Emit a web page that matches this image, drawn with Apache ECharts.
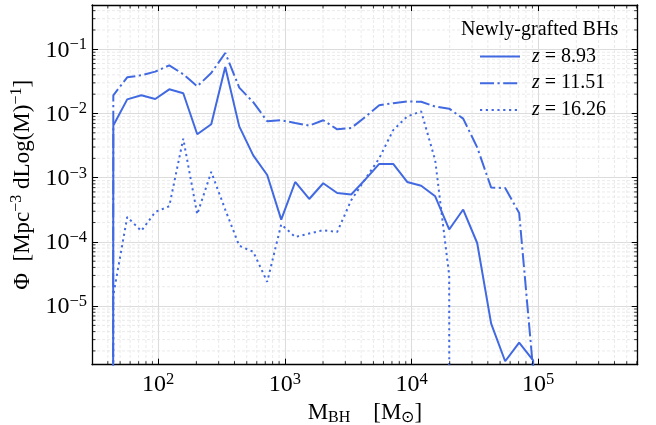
<!DOCTYPE html>
<html><head><meta charset="utf-8">
<script src="https://cdn.jsdelivr.net/npm/echarts@6/dist/echarts.min.js"></script>
<style>html,body{margin:0;padding:0;background:#fff}#c{width:656px;height:425px}</style>
</head><body><div id="c"></div>
<script>
// ---- data (black-hole mass bins, M_sun) ----
const MASS = [34.24, 44.2, 56.9, 73.5, 94.7, 122.2, 157.6, 203.2, 262.1, 338.1, 436.1, 562.3, 725.1, 935.4, 1206, 1556, 2007, 2588, 3338, 4305, 5553, 7161, 9237, 11912, 15367, 19815, 25558, 32961, 42510, 54828, 70713, 91201, 117650];
const PHI_Z893 = [0, 6.5e-3, 1.66e-2, 1.92e-2, 1.68e-2, 2.38e-2, 2.07e-2, 4.74e-3, 6.8e-3, 5.3e-2, 6.3e-3, 2.23e-3, 1.1e-3, 2.22e-4, 8.57e-4, 4.66e-4, 8.18e-4, 5.78e-4, 5.46e-4, 9.33e-4, 1.64e-3, 1.64e-3, 8.57e-4, 7.5e-4, 5.13e-4, 1.56e-4, 3.19e-4, 9.6e-5, 5.33e-6, 1.38e-6, 2.7e-6, 1.43e-6, 0];
const PHI_Z1151 = [0, 1.92e-2, 3.66e-2, 3.94e-2, 4.49e-2, 5.63e-2, 4.09e-2, 2.65e-2, 4.27e-2, 8.77e-2, 2.53e-2, 1.5e-2, 7.57e-3, 7.84e-3, 7.11e-3, 6.47e-3, 7.84e-3, 5.67e-3, 5.94e-3, 8.83e-3, 1.34e-2, 1.45e-2, 1.54e-2, 1.52e-2, 1.28e-2, 1.19e-2, 8.3e-3, 2.97e-3, 7.0e-4, 6.9e-4, 2.82e-4, 1.0e-6, 0];
const PHI_Z1626 = [0, 1.48e-5, 2.44e-4, 1.48e-4, 2.92e-4, 3.59e-4, 4.06e-3, 2.69e-4, 1.23e-3, 3.18e-4, 8.7e-5, 7.0e-5, 2.38e-5, 1.88e-4, 1.19e-4, 1.35e-4, 1.52e-4, 1.43e-4, 4.45e-4, 9.5e-4, 2.0e-3, 5.5e-3, 9.0e-3, 1.08e-2, 1.87e-3, 3.0e-5, 0, 0, 0, 0, 0, 0, 0];
const SERIES_NAMES = ['z = 8.93', 'z = 11.51', 'z = 16.26'];
const LEGEND_TITLE = 'Newly-grafted BHs';
const X_MIN = 30, X_MAX = 6.1e5, Y_MIN = 1.22e-6, Y_MAX = 0.49;
const MINOR_MULTS = [2, 3, 4, 5, 6, 7, 8, 9];
const X_DECADES = [1, 2, 3, 4, 5];
const Y_DECADES = [-6, -5, -4, -3, -2, -1];

// ---- helpers ----
const FONT = 'Liberation Serif';
const COLOR = '#4169E1';
const TINY = 1e-300; // zero bins clipped like matplotlib's log scale
function pairs(ys) { return MASS.map((m, i) => [m, ys[i] > 0 ? ys[i] : TINY]); }
const X_MINOR = [], Y_MINOR = [];
X_DECADES.forEach(d => MINOR_MULTS.forEach(m => { const v = m * Math.pow(10, d); if (v > X_MIN && v < X_MAX) X_MINOR.push(v); }));
Y_DECADES.forEach(d => MINOR_MULTS.forEach(m => { const v = m * Math.pow(10, d); if (v > Y_MIN && v < Y_MAX) Y_MINOR.push(v); }));
const MINOR_DATA = X_MINOR.map(v => [v, Y_MIN, 0]).concat(Y_MINOR.map(v => [X_MIN, v, 1]));

function supLabel(v) {
  const e = Math.round(Math.log10(v));
  return '{b|10}{s|' + (e < 0 ? '\u2212' + (-e) : String(e)) + '}';
}
const tickRich = {
  b: { fontFamily: FONT, fontSize: 24, color: '#000', verticalAlign: 'bottom' },
  s: { fontFamily: FONT, fontSize: 16.5, color: '#000', verticalAlign: 'bottom', padding: [0, 0, 9, 0] }
};
const axisLine = { show: true, onZero: false, lineStyle: { color: '#000', width: 1.3 } };
const majorTick = { show: true, inside: true, length: 6, lineStyle: { color: '#000', width: 1 } };

function minorRender(kind) {
  return function (params, api) {
    const cs = params.coordSys;
    const isX = api.value(2) === 0;
    if (isX) {
      const px = api.coord([api.value(0), Y_MIN])[0];
      if (kind === 'grid') return { type: 'line', shape: { x1: px, y1: cs.y, x2: px, y2: cs.y + cs.height }, style: { stroke: '#e4e4e4', lineWidth: 0.8, lineDash: [3, 2] } };
      return { type: 'group', children: [
        { type: 'line', shape: { x1: px, y1: cs.y + cs.height, x2: px, y2: cs.y + cs.height - 3.5 }, style: { stroke: '#000', lineWidth: 0.8 } },
        { type: 'line', shape: { x1: px, y1: cs.y, x2: px, y2: cs.y + 3.5 }, style: { stroke: '#000', lineWidth: 0.8 } }
      ] };
    } else {
      const py = api.coord([X_MIN, api.value(1)])[1];
      if (kind === 'grid') return { type: 'line', shape: { x1: cs.x, y1: py, x2: cs.x + cs.width, y2: py }, style: { stroke: '#e4e4e4', lineWidth: 0.8, lineDash: [3, 2] } };
      return { type: 'group', children: [
        { type: 'line', shape: { x1: cs.x, y1: py, x2: cs.x + 3.5, y2: py }, style: { stroke: '#000', lineWidth: 0.8 } },
        { type: 'line', shape: { x1: cs.x + cs.width, y1: py, x2: cs.x + cs.width - 3.5, y2: py }, style: { stroke: '#000', lineWidth: 0.8 } }
      ] };
    }
  };
}

const baseX = { type: 'log', logBase: 10, min: X_MIN, max: X_MAX, splitNumber: 5 };
const baseY = { type: 'log', logBase: 10, min: Y_MIN, max: Y_MAX, splitNumber: 5 };

const chart = echarts.init(document.getElementById('c'), null, { renderer: 'canvas' });
chart.setOption({
  animation: false,
  backgroundColor: '#fff',
  grid: { left: 92, right: 18.3, top: 5, bottom: 60.3, containLabel: false, outerBoundsMode: 'none' },
  title: { text: LEGEND_TITLE, left: 461, top: 20, padding: 0, textStyle: { fontFamily: FONT, fontSize: 20, fontWeight: 'normal', color: '#000' } },
  legend: {
    orient: 'vertical', left: 479, top: 46.5, padding: 0, itemWidth: 40, itemHeight: 14, itemGap: 6.7,
    itemStyle: { opacity: 0 },
    lineStyle: { opacity: 1 },
    selectedMode: false, data: SERIES_NAMES,
    formatter: n => n.replace(/^z/, '{i|z}'),
    textStyle: { fontFamily: FONT, fontSize: 20, color: '#000',
      rich: { i: { fontFamily: FONT, fontSize: 20, fontStyle: 'italic', color: '#000', padding: [0, 0, 0, 7] } } }
  },
  xAxis: [
    Object.assign({}, baseX, {
      position: 'bottom', axisLine: axisLine, axisTick: majorTick,
      axisLabel: { formatter: supLabel, rich: tickRich, margin: 6, showMinLabel: false, showMaxLabel: false },
      splitLine: { show: true, lineStyle: { color: '#dcdcdc', width: 1.1 } },
      name: '{m|M}{sub|BH}{m|    [M}{sub|\u2299}{m|]}', nameLocation: 'middle', nameGap: 28,
      nameTextStyle: { rich: {
        m: { fontFamily: FONT, fontSize: 23, color: '#000', verticalAlign: 'top' },
        sub: { fontFamily: FONT, fontSize: 16, color: '#000', verticalAlign: 'top', padding: [8, 0, 0, 0] } } }
    }),
    Object.assign({}, baseX, { position: 'top', axisLine: axisLine, axisTick: majorTick, axisLabel: { show: false }, splitLine: { show: false } })
  ],
  yAxis: [
    Object.assign({}, baseY, {
      position: 'left', axisLine: axisLine, axisTick: majorTick,
      axisLabel: { formatter: supLabel, rich: tickRich, margin: 5, showMinLabel: false, showMaxLabel: false },
      splitLine: { show: true, lineStyle: { color: '#dcdcdc', width: 1.1 } },
      name: '{m|\u03A6  [Mpc}{s|\u22123}{m| dLog(M)}{s|\u22121}{m|]}', nameLocation: 'middle', nameRotate: 90, nameGap: 58,
      nameTextStyle: { rich: {
        m: { fontFamily: FONT, fontSize: 23, color: '#000', verticalAlign: 'bottom' },
        s: { fontFamily: FONT, fontSize: 16, color: '#000', verticalAlign: 'bottom', padding: [0, 0, 9, 0] } } }
    }),
    Object.assign({}, baseY, { position: 'right', axisLine: axisLine, axisTick: majorTick, axisLabel: { show: false }, splitLine: { show: false } })
  ],
  series: [
    { type: 'custom', name: 'minorGrid', silent: true, z: 0, xAxisIndex: 0, yAxisIndex: 0, renderItem: minorRender('grid'), encode: { x: 0, y: 1 }, data: MINOR_DATA },
    { type: 'custom', name: 'minorTicks', silent: true, z: 5, xAxisIndex: 0, yAxisIndex: 0, renderItem: minorRender('tick'), encode: { x: 0, y: 1 }, data: MINOR_DATA },
    { type: 'line', name: SERIES_NAMES[0], data: pairs(PHI_Z893), symbol: 'none', z: 3, lineStyle: { color: COLOR, width: 2 }, itemStyle: { color: COLOR } },
    { type: 'line', name: SERIES_NAMES[1], data: pairs(PHI_Z1151), symbol: 'none', z: 3, lineStyle: { color: COLOR, width: 2, type: [14, 3.5, 2.2, 3.5] }, itemStyle: { color: COLOR } },
    { type: 'line', name: SERIES_NAMES[2], data: pairs(PHI_Z1626), symbol: 'none', z: 3, lineStyle: { color: COLOR, width: 2, type: [2.2, 3.6] }, itemStyle: { color: COLOR } }
  ]
});
</script></body></html>
